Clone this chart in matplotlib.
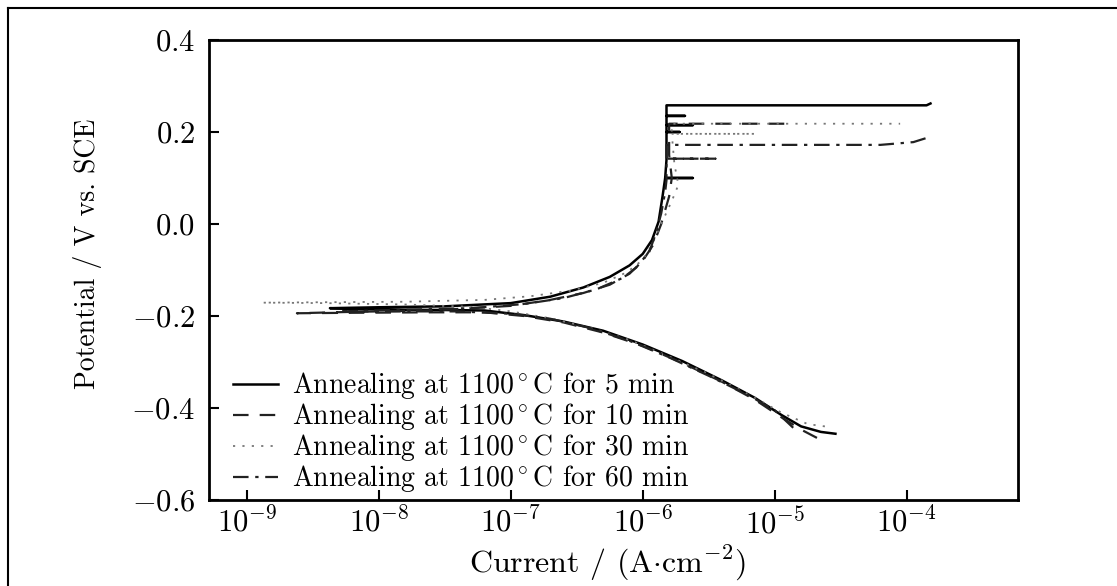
import numpy as np
import matplotlib
matplotlib.use("Agg")
import matplotlib.pyplot as plt
from matplotlib.lines import Line2D
from matplotlib.ticker import FuncFormatter, LogFormatterSciNotation, NullLocator

# ─── Dades: log10(i / A·cm⁻²) i potencial (V vs. SCE) ────────────────────────
# cada corba: branca catòdica (des de l'extrem fins a Ecorr) + branca anòdica

logi_5 = [-4.54, -4.65, -4.80, -4.95, -5.15, -5.40, -5.70, -6.00, -6.30, -6.60,
          -6.90, -7.20, -7.50, -8.00, -8.37,
          -8.00, -7.50, -7.00, -6.70, -6.45, -6.25, -6.10, -6.00, -5.93, -5.88,
          -5.85, -5.83, -5.62, -5.83, -5.82, -5.82, -5.72, -5.82, -5.82, -5.62,
          -5.82, -5.82, -5.68, -5.82, -5.82, -4.50, -3.85, -3.82]
pot_5 = [-0.456, -0.452, -0.440, -0.415, -0.378, -0.340, -0.298, -0.262, -0.232, -0.212,
         -0.198, -0.188, -0.187, -0.186, -0.183,
         -0.181, -0.179, -0.172, -0.158, -0.138, -0.115, -0.090, -0.065, -0.035, 0.005,
         0.060, 0.100, 0.100, 0.100, 0.140, 0.200, 0.200, 0.200, 0.215, 0.215,
         0.215, 0.235, 0.235, 0.235, 0.258, 0.258, 0.258, 0.262]

logi_10 = [-4.68, -4.80, -4.95, -5.15, -5.40, -5.70, -6.00, -6.30, -6.60, -6.90,
           -7.20, -7.60, -8.20, -8.62,
           -8.20, -7.60, -7.00, -6.70, -6.45, -6.25, -6.10, -6.00, -5.92, -5.86,
           -5.80, -5.78, -5.80, -5.80, -4.90]
pot_10 = [-0.465, -0.447, -0.420, -0.382, -0.343, -0.302, -0.265, -0.236, -0.214, -0.200,
          -0.192, -0.192, -0.193, -0.194,
          -0.191, -0.188, -0.178, -0.165, -0.150, -0.132, -0.108, -0.080, -0.045, 0.000,
          0.060, 0.100, 0.150, 0.218, 0.218]

logi_30 = [-4.62, -4.75, -4.95, -5.20, -5.50, -5.80, -6.10, -6.40, -6.70, -7.00,
           -7.30, -7.80, -8.40, -8.88,
           -8.40, -7.80, -7.20, -6.85, -6.55, -6.30, -6.12, -6.00, -5.93, -5.86,
           -5.78, -5.73, -5.76, -5.78, -5.15, -5.78, -5.78, -4.05]
pot_30 = [-0.440, -0.435, -0.410, -0.370, -0.326, -0.288, -0.252, -0.225, -0.205, -0.190,
          -0.180, -0.175, -0.172, -0.171,
          -0.170, -0.169, -0.165, -0.157, -0.145, -0.128, -0.105, -0.078, -0.045, 0.000,
          0.050, 0.085, 0.130, 0.196, 0.196, 0.196, 0.218, 0.218]

logi_60 = [-4.86, -5.00, -5.20, -5.50, -5.80, -6.10, -6.40, -6.70, -7.00, -7.40,
           -7.90, -8.30,
           -7.90, -7.30, -6.90, -6.60, -6.35, -6.15, -6.05, -5.95, -5.90, -5.86,
           -5.83, -5.82, -5.82, -5.45, -5.82, -5.82, -4.20, -3.95, -3.85]
pot_60 = [-0.443, -0.405, -0.372, -0.330, -0.290, -0.254, -0.226, -0.206, -0.195, -0.190,
          -0.190, -0.190,
          -0.187, -0.183, -0.174, -0.161, -0.142, -0.117, -0.095, -0.060, -0.020, 0.023,
          0.070, 0.095, 0.142, 0.142, 0.142, 0.172, 0.172, 0.178, 0.187]

labels = ["Annealing at 1100$^\\circ$C for 5 min",
          "Annealing at 1100$^\\circ$C for 10 min",
          "Annealing at 1100$^\\circ$C for 30 min",
          "Annealing at 1100$^\\circ$C for 60 min"]

x_tick_exp = [-9, -8, -7, -6, -5, -4]
y_ticks = [-0.6, -0.4, -0.2, 0.0, 0.2, 0.4]

# ─── Estil ────────────────────────────────────────────────────────────────────

plt.rcParams.update({
    "font.family": "cmr10",
    "mathtext.fontset": "cm",
    "axes.unicode_minus": True,
    "axes.formatter.use_mathtext": True,
})

STYLES = [
    dict(color="black", linestyle="-", linewidth=1.8),
    dict(color="#222222", linestyle=(0, (7, 5)), linewidth=1.6),
    dict(color="#777777", linestyle=(0, (1.2, 4)), linewidth=1.3),
    dict(color="#222222", linestyle=(0, (7, 3, 1.5, 3)), linewidth=1.6),
]

fig = plt.figure(figsize=(11.17, 5.86), dpi=100)
ax = fig.add_axes([209 / 1117, 86 / 586, 809 / 1117, 460 / 586])

series = [(logi_5, pot_5), (logi_10, pot_10), (logi_30, pot_30), (logi_60, pot_60)]
for (li, pot), st, lab in zip(series, STYLES, labels):
    ax.plot(10 ** np.array(li), pot, label=lab, **st)

ax.set_xscale("log")
ax.set_xlim(10 ** -9.286, 10 ** -3.157)
ax.set_ylim(-0.6, 0.4)
ax.set_xticks([10.0 ** e for e in x_tick_exp])
ax.xaxis.set_major_formatter(LogFormatterSciNotation())
ax.xaxis.set_minor_locator(NullLocator())
ax.set_yticks(y_ticks)
ax.yaxis.set_major_formatter(FuncFormatter(lambda v, p: rf"${v:.1f}$"))

for s in ["left", "bottom", "top", "right"]:
    ax.spines[s].set_linewidth(2.0)
ax.tick_params(axis="both", which="major", direction="in", length=7, width=1.5,
               top=False, right=False, labelsize=22)
ax.tick_params(axis="y", pad=10)
ax.tick_params(axis="x", pad=5)

ax.set_xlabel(r"Current / (A$\cdot$cm$^{-2}$)", fontsize=23)
ax.set_ylabel("Potential / V vs. SCE", fontsize=20)
ax.xaxis.set_label_coords(0.493, -0.095)
ax.yaxis.set_label_coords(-0.132, 0.535)

leg = ax.legend(loc="lower left", bbox_to_anchor=(0.03, 0.012), frameon=False,
                fontsize=20, handlelength=1.6, handletextpad=0.5,
                labelspacing=0.0, borderpad=0, borderaxespad=0)

# vora de la figura (superior i esquerra)
fig.add_artist(Line2D([8 / 1117, 8 / 1117], [0, 1 - 8 / 586],
                      transform=fig.transFigure, color="black", linewidth=1.5))
fig.add_artist(Line2D([8 / 1117, 1], [1 - 8 / 586, 1 - 8 / 586],
                      transform=fig.transFigure, color="black", linewidth=1.5))

fig.savefig("out.png", dpi=100)
